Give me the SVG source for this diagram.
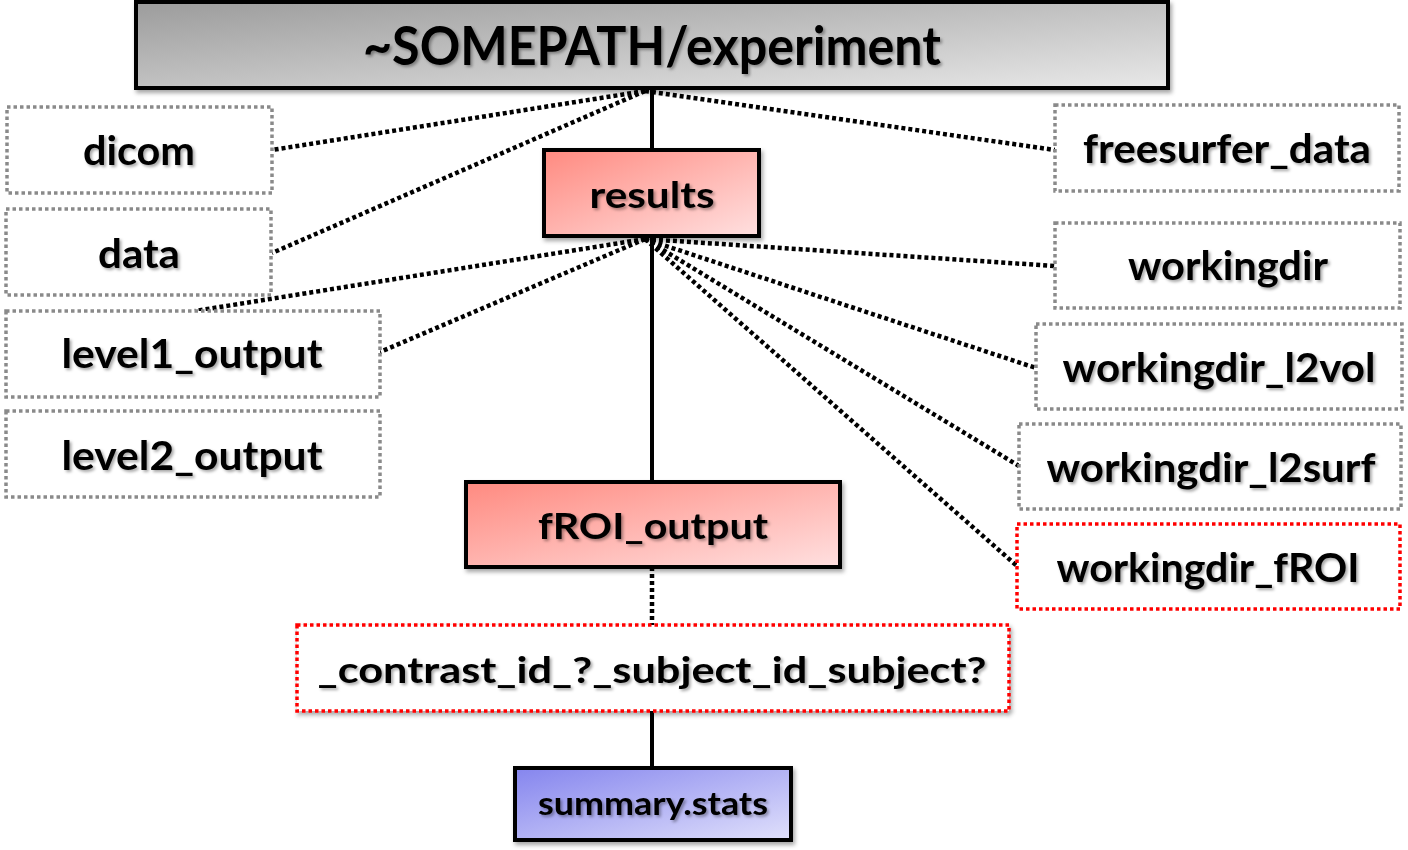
<svg xmlns="http://www.w3.org/2000/svg" width="1408" height="850" viewBox="0 0 1408 850">
<defs>
<linearGradient id="gGray" x1="0" y1="0" x2="1" y2="1"><stop offset="0" stop-color="#9c9c9c"/><stop offset="1" stop-color="#e8e8e8"/></linearGradient>
<linearGradient id="gPink" x1="0" y1="0" x2="1" y2="1"><stop offset="0" stop-color="#ff8a80"/><stop offset="1" stop-color="#ffe0e0"/></linearGradient>
<linearGradient id="gBlue" x1="0" y1="0" x2="1" y2="1"><stop offset="0" stop-color="#8585ee"/><stop offset="1" stop-color="#e0e0fb"/></linearGradient>
<filter id="ts" x="-10%" y="-30%" width="120%" height="160%"><feDropShadow dx="2" dy="2" stdDeviation="1.5" flood-color="#000" flood-opacity="0.35"/></filter>
<filter id="bs" x="-5%" y="-10%" width="110%" height="130%"><feDropShadow dx="2" dy="3" stdDeviation="2" flood-color="#000" flood-opacity="0.35"/></filter>
</defs>
<style>
text{font-family:Lato,"Open Sans","Liberation Sans",sans-serif;font-weight:bold;fill:#000;text-anchor:middle;filter:url(#ts)}
.solid{fill:none;stroke:#000;stroke-width:4}
.conn{fill:none;stroke:#000;stroke-width:4.5;stroke-dasharray:4 3}
.main{stroke:#000;stroke-width:4}
.gray{fill:#fff;stroke:#8a8a8a;stroke-width:3.5;stroke-dasharray:3.5 3}
.red{fill:#fff;stroke:#f00;stroke-width:3.5;stroke-dasharray:3.5 3}
</style>
<g id="connectors">
<line class="solid" x1="652" y1="88" x2="652" y2="150"/>
<line class="solid" x1="652" y1="236" x2="652" y2="482"/>
<line class="conn" x1="652" y1="567" x2="652" y2="625"/>
<line class="solid" x1="652" y1="711" x2="652" y2="768"/>
<line class="conn" x1="645" y1="91" x2="272" y2="150"/>
<line class="conn" x1="645" y1="91" x2="272" y2="253"/>
<line class="conn" x1="645" y1="91" x2="1055" y2="150"/>
<line class="conn" x1="645" y1="239" x2="195" y2="311"/>
<line class="conn" x1="645" y1="239" x2="380" y2="352"/>
<line class="conn" x1="645" y1="239" x2="1055" y2="266"/>
<line class="conn" x1="645" y1="239" x2="1036" y2="368"/>
<line class="conn" x1="645" y1="239" x2="1019" y2="466"/>
<line class="conn" x1="645" y1="239" x2="1017" y2="566"/>
</g>
<g id="n-experiment"><rect class="main" x="136" y="2" width="1032" height="86" fill="url(#gGray)" filter="url(#bs)"/><text x="652" y="65" font-size="53" textLength="578" lengthAdjust="spacingAndGlyphs">~SOMEPATH/experiment</text></g>
<g id="n-results"><rect class="main" x="544" y="150" width="215" height="86" fill="url(#gPink)" filter="url(#bs)"/><text x="652" y="208" font-size="37" textLength="125" lengthAdjust="spacingAndGlyphs">results</text></g>
<g id="n-froi"><rect class="main" x="466" y="482" width="374" height="85" fill="url(#gPink)" filter="url(#bs)"/><text x="653" y="539" font-size="37" textLength="230" lengthAdjust="spacingAndGlyphs">fROI_output</text></g>
<g id="n-contrast"><rect class="red" x="297" y="625" width="712" height="86" filter="url(#bs)"/><text x="652" y="683" font-size="37" textLength="669" lengthAdjust="spacingAndGlyphs">_contrast_id_?_subject_id_subject?</text></g>
<g id="n-summary"><rect class="main" x="515" y="768" width="276" height="72" fill="url(#gBlue)" filter="url(#bs)"/><text x="653" y="815" font-size="33" textLength="230" lengthAdjust="spacingAndGlyphs">summary.stats</text></g>
<g id="n-dicom"><rect class="gray" x="7" y="107" width="265" height="86"/><text x="139" y="165" font-size="41" textLength="112" lengthAdjust="spacingAndGlyphs">dicom</text></g>
<g id="n-data"><rect class="gray" x="6" y="209" width="265" height="86"/><text x="139" y="268" font-size="41" textLength="82" lengthAdjust="spacingAndGlyphs">data</text></g>
<g id="n-level1"><rect class="gray" x="6" y="311" width="374" height="86"/><text x="192" y="368" font-size="41" textLength="261" lengthAdjust="spacingAndGlyphs">level1_output</text></g>
<g id="n-level2"><rect class="gray" x="6" y="411" width="374" height="86"/><text x="192" y="470" font-size="41" textLength="261" lengthAdjust="spacingAndGlyphs">level2_output</text></g>
<g id="n-freesurfer"><rect class="gray" x="1055" y="105" width="344" height="86"/><text x="1227" y="163" font-size="41" textLength="288" lengthAdjust="spacingAndGlyphs">freesurfer_data</text></g>
<g id="n-workingdir"><rect class="gray" x="1055" y="223" width="345" height="85"/><text x="1228" y="280" font-size="41" textLength="200" lengthAdjust="spacingAndGlyphs">workingdir</text></g>
<g id="n-l2vol"><rect class="gray" x="1036" y="324" width="366" height="85"/><text x="1219" y="382" font-size="41" textLength="313" lengthAdjust="spacingAndGlyphs">workingdir_l2vol</text></g>
<g id="n-l2surf"><rect class="gray" x="1019" y="424" width="382" height="85"/><text x="1211" y="482" font-size="41" textLength="329" lengthAdjust="spacingAndGlyphs">workingdir_l2surf</text></g>
<g id="n-wfroi"><rect class="red" x="1017" y="524" width="383" height="85"/><text x="1208" y="582" font-size="41" textLength="303" lengthAdjust="spacingAndGlyphs">workingdir_fROI</text></g>
</svg>
